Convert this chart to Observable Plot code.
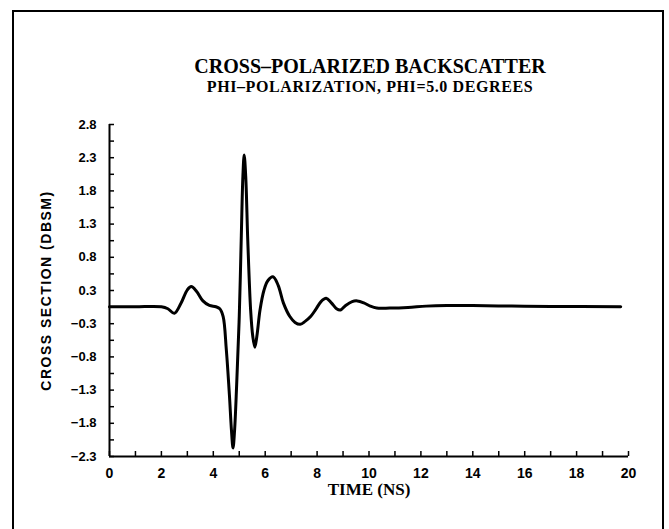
<!DOCTYPE html>
<html>
<head>
<meta charset="utf-8">
<script src="https://cdn.jsdelivr.net/npm/d3@7"></script>
<script src="https://cdn.jsdelivr.net/npm/@observablehq/plot@0.6"></script>
<style>
  html, body { margin: 0; padding: 0; background: #fff; }
  #wrap { position: relative; width: 669px; height: 529px; overflow: hidden; background: #fff; }
  #frame { position: absolute; left: 12px; top: 10px; width: 652px; height: 600px; border: 2px solid #000; box-sizing: border-box; }
  .ttl { position: absolute; left: 0; width: 740px; text-align: center; font-family: "Liberation Serif", serif; font-weight: bold; color: #000; white-space: nowrap; }
  #title { top: 55px; font-size: 20px; line-height: 22px; }
  #subtitle { top: 78px; font-size: 16px; line-height: 18px; letter-spacing: 0.6px; }
  #chart { position: absolute; left: 0; top: 0; }
</style>
</head>
<body>
<div id="wrap">
  <div id="frame"></div>
  <div id="title" class="ttl"></div>
  <div id="subtitle" class="ttl"></div>
  <div id="chart"></div>
</div>
<script>
// ---- data ----
const titleText = "CROSS–POLARIZED BACKSCATTER";
const subtitleText = "PHI–POLARIZATION, PHI=5.0 DEGREES";
const xLabel = "TIME (NS)";
const yLabel = "CROSS SECTION (DBSM)";

const timeNs = [0, 1.0, 2.0, 2.25, 2.5, 2.75, 3.0, 3.15, 3.35, 3.6, 3.85, 4.1, 4.25, 4.38, 4.5, 4.62, 4.7, 4.76, 4.82, 4.9, 5.0, 5.08, 5.14, 5.19, 5.25, 5.33, 5.44, 5.52, 5.6, 5.68, 5.8, 5.95, 6.1, 6.3, 6.5, 6.7, 6.95, 7.15, 7.35, 7.55, 7.75, 7.95, 8.15, 8.35, 8.55, 8.75, 8.9, 9.1, 9.35, 9.55, 9.8, 10.05, 10.3, 10.8, 11.5, 12.2, 13.0, 14.0, 15.5, 17.0, 19.7];
const crossSection = [0, 0, 0, -0.03, -0.10, 0.05, 0.26, 0.31, 0.24, 0.09, 0.02, 0.0, -0.03, -0.15, -0.65, -1.35, -1.9, -2.17, -1.9, -1.2, -0.15, 1.1, 2.0, 2.33, 2.0, 1.0, -0.06, -0.45, -0.62, -0.45, -0.05, 0.25, 0.40, 0.46, 0.33, 0.06, -0.15, -0.24, -0.27, -0.22, -0.15, -0.04, 0.08, 0.13, 0.06, -0.03, -0.05, 0.02, 0.08, 0.09, 0.06, 0.01, -0.02, -0.02, -0.01, 0.01, 0.02, 0.02, 0.01, 0.005, 0.0];

const xTicks = [0, 2, 4, 6, 8, 10, 12, 14, 16, 18, 20];
const xTickLabels = ["0", "2", "4", "6", "8", "10", "12", "14", "16", "18", "20"];
const xMinorTicks = [1, 3, 5, 7, 9, 11, 13, 15, 17, 19];
const yTicks = [-2.3, -1.79, -1.28, -0.77, -0.26, 0.25, 0.76, 1.27, 1.78, 2.29, 2.8];
const yTickLabels = ["−2.3", "−1.8", "−1.3", "−0.8", "−0.3", "0.3", "0.8", "1.3", "1.8", "2.3", "2.8"];
const yMinorTicks = [-2.045, -1.535, -1.025, -0.515, -0.005, 0.505, 1.015, 1.525, 2.035, 2.545];

const series = timeNs.map((t, i) => ({t, v: crossSection[i]}));

document.getElementById("title").textContent = titleText;
document.getElementById("subtitle").textContent = subtitleText;

const chart = Plot.plot({
  width: 669,
  height: 529,
  marginLeft: 109,
  marginRight: 41,
  marginTop: 124,
  marginBottom: 73,
  style: {background: "transparent", color: "#000", fontFamily: "'Liberation Sans', Arial, sans-serif"},
  x: {domain: [0, 20]},
  y: {domain: [-2.3, 2.8]},
  marks: [
    Plot.ruleX([0], {stroke: "#000", strokeWidth: 2}),
    Plot.ruleY([-2.3], {stroke: "#000", strokeWidth: 2}),
    Plot.ruleY(yTicks.concat(yMinorTicks), {y: d => d, x1: 0, x2: 0, insetRight: -5, stroke: "#000", strokeWidth: 1.5}),
    Plot.ruleX(xTicks.concat(xMinorTicks), {x: d => d, y1: -2.3, y2: -2.3, insetTop: -5, stroke: "#000", strokeWidth: 1.5}),
    Plot.axisY({ticks: yTicks, tickSize: 0, tickPadding: 13, label: null,
      tickFormat: d => yTickLabels[yTicks.indexOf(d)], fontSize: 13, fontWeight: "bold"}),
    Plot.axisX({ticks: xTicks, tickSize: 0, tickPadding: 12, label: null,
      tickFormat: d => xTickLabels[xTicks.indexOf(d)], fontSize: 14, fontWeight: "bold"}),
    Plot.line(series, {x: "t", y: "v", curve: "catmull-rom", stroke: "#000", strokeWidth: 3}),
    Plot.text([xLabel], {frameAnchor: "bottom", dy: 33, lineAnchor: "middle", text: d => d,
      fontFamily: "'Liberation Serif', serif", fontWeight: "bold", fontSize: 17, fill: "#000"}),
    Plot.text([yLabel], {frameAnchor: "left", dx: -63, rotate: -90, lineAnchor: "middle", textAnchor: "middle", text: d => d,
      fontFamily: "'Liberation Sans', Arial, sans-serif", fontWeight: "bold", fontSize: 14, fill: "#000"})
  ]
});
chart.querySelectorAll("text").forEach(t => {
  if (t.textContent === yLabel) t.setAttribute("letter-spacing", "1.5");
});
document.getElementById("chart").appendChild(chart);
</script>
</body>
</html>
